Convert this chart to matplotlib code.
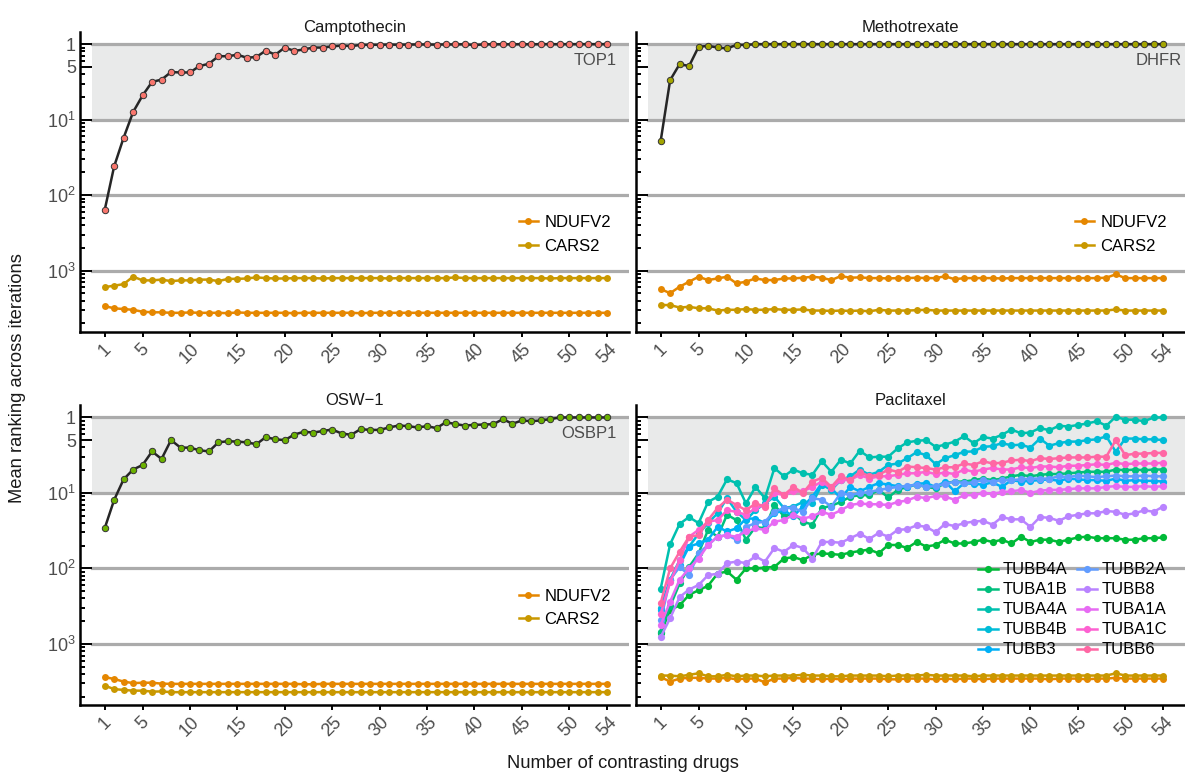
import matplotlib
matplotlib.use("Agg")
import matplotlib.pyplot as plt
import numpy as np

plt.rcParams['font.family'] = ['Liberation Sans', 'DejaVu Sans']
plt.rcParams['mathtext.fontset'] = 'custom'
plt.rcParams['mathtext.rm'] = 'Liberation Sans'

# x axis: number of contrasting drugs
n_drugs = np.arange(1, 55)
xtick_pos = [1, 5, 10, 15, 20, 25, 30, 35, 40, 45, 50, 54]

# mean ranking across iterations as log10(rank)
top1 = [2.20, 1.62, 1.24, 0.90, 0.68, 0.50, 0.47, 0.37, 0.375, 0.375,
        0.29, 0.26, 0.16, 0.16, 0.14, 0.18, 0.17, 0.085, 0.14, 0.045,
        0.09, 0.07, 0.045, 0.045, 0.03, 0.018, 0.026, 0.01, 0.008, 0.008,
        0.005, 0.008, 0.005, 0.004, 0.004, 0.006, 0.003, 0.004, 0.0, 0.012,
        0.002, 0.002, 0.001, 0.002, 0.0, 0.002, 0.0, 0.0, 0.001, 0.0,
        0.0, 0.0, 0.0, 0.0]
campto_ndufv2 = [3.47, 3.50, 3.51, 3.52, 3.545, 3.553, 3.553, 3.56, 3.56, 3.555,
                 3.56, 3.56, 3.56, 3.565, 3.555, 3.56, 3.56, 3.56, 3.56, 3.56,
                 3.565, 3.56, 3.56, 3.56, 3.56, 3.56, 3.56, 3.565, 3.56, 3.56,
                 3.56, 3.56, 3.56, 3.56, 3.56, 3.56, 3.56, 3.56, 3.56, 3.56,
                 3.56, 3.56, 3.56, 3.56, 3.56, 3.56, 3.56, 3.56, 3.56, 3.56,
                 3.56, 3.56, 3.56, 3.56]
campto_cars2 = [3.22, 3.20, 3.18, 3.08, 3.13, 3.13, 3.12, 3.14, 3.13, 3.13,
                3.12, 3.12, 3.14, 3.11, 3.11, 3.105, 3.09, 3.10, 3.105, 3.105,
                3.10, 3.10, 3.10, 3.105, 3.10, 3.10, 3.10, 3.10, 3.10, 3.10,
                3.105, 3.10, 3.10, 3.10, 3.10, 3.10, 3.10, 3.09, 3.10, 3.10,
                3.10, 3.10, 3.10, 3.10, 3.10, 3.10, 3.10, 3.105, 3.10, 3.10,
                3.10, 3.10, 3.10, 3.10]

dhfr = [1.285, 0.477, 0.265, 0.29, 0.035, 0.023, 0.044, 0.057, 0.01, 0.01,
        0.0, 0.0, 0.0, 0.0, 0.0, 0.0, 0.0, 0.0, 0.0, 0.0,
        0.0, 0.0, 0.0, 0.0, 0.0, 0.0, 0.0, 0.0, 0.0, 0.0,
        0.0, 0.0, 0.0, 0.0, 0.0, 0.0, 0.0, 0.0, 0.0, 0.0,
        0.0, 0.0, 0.0, 0.0, 0.0, 0.0, 0.0, 0.0, 0.0, 0.0,
        0.0, 0.0, 0.0, 0.0]
metho_ndufv2 = [3.245, 3.30, 3.214, 3.148, 3.082, 3.126, 3.104, 3.082, 3.17, 3.148,
                3.104, 3.126, 3.126, 3.104, 3.104, 3.095, 3.082, 3.095, 3.126, 3.073,
                3.095, 3.09, 3.10, 3.10, 3.104, 3.10, 3.10, 3.095, 3.10, 3.10,
                3.075, 3.115, 3.10, 3.10, 3.10, 3.10, 3.105, 3.10, 3.10, 3.10,
                3.10, 3.10, 3.10, 3.10, 3.10, 3.10, 3.10, 3.095, 3.05, 3.10,
                3.10, 3.10, 3.10, 3.10]
metho_cars2 = [3.457, 3.457, 3.49, 3.48, 3.50, 3.50, 3.53, 3.52, 3.52, 3.51,
               3.52, 3.52, 3.51, 3.52, 3.52, 3.515, 3.53, 3.53, 3.535, 3.53,
               3.535, 3.53, 3.54, 3.52, 3.53, 3.53, 3.53, 3.525, 3.52, 3.53,
               3.53, 3.53, 3.53, 3.53, 3.53, 3.53, 3.53, 3.53, 3.53, 3.53,
               3.53, 3.53, 3.53, 3.53, 3.53, 3.53, 3.53, 3.53, 3.515, 3.53,
               3.53, 3.53, 3.53, 3.53]

osbp1 = [1.47, 1.093, 0.82, 0.69, 0.63, 0.45, 0.55, 0.30, 0.40, 0.40,
         0.435, 0.45, 0.33, 0.315, 0.32, 0.33, 0.355, 0.26, 0.29, 0.30,
         0.227, 0.19, 0.20, 0.18, 0.16, 0.213, 0.23, 0.155, 0.165, 0.165,
         0.133, 0.107, 0.115, 0.133, 0.115, 0.142, 0.062, 0.089, 0.107, 0.098,
         0.094, 0.089, 0.022, 0.084, 0.04, 0.049, 0.04, 0.022, 0.0, 0.0,
         0.0, 0.0, 0.0, 0.0]
osw_ndufv2 = [3.44, 3.465, 3.50, 3.52, 3.515, 3.515, 3.527, 3.53, 3.53, 3.53,
              3.53, 3.53, 3.53, 3.53, 3.53, 3.53, 3.53, 3.53, 3.53, 3.53,
              3.53, 3.535, 3.535, 3.53, 3.53, 3.53, 3.53, 3.53, 3.53, 3.53,
              3.53, 3.53, 3.53, 3.53, 3.53, 3.53, 3.53, 3.53, 3.53, 3.53,
              3.53, 3.53, 3.53, 3.53, 3.53, 3.53, 3.53, 3.53, 3.53, 3.53,
              3.53, 3.53, 3.53, 3.53]
osw_cars2 = [3.553, 3.60, 3.61, 3.62, 3.62, 3.633, 3.63, 3.64, 3.64, 3.64,
             3.64, 3.64, 3.64, 3.64, 3.64, 3.64, 3.64, 3.64, 3.64, 3.64,
             3.64, 3.64, 3.64, 3.64, 3.64, 3.64, 3.64, 3.64, 3.64, 3.64,
             3.64, 3.64, 3.64, 3.64, 3.64, 3.64, 3.64, 3.64, 3.64, 3.64,
             3.64, 3.64, 3.64, 3.64, 3.64, 3.64, 3.64, 3.64, 3.64, 3.64,
             3.64, 3.64, 3.64, 3.64]

pacli_ndufv2 = [3.44, 3.50, 3.46, 3.45, 3.45, 3.46, 3.46, 3.45, 3.47, 3.46,
                3.46, 3.51, 3.46, 3.46, 3.45, 3.46, 3.46, 3.47, 3.46, 3.47,
                3.46, 3.46, 3.46, 3.46, 3.47, 3.47, 3.46, 3.46, 3.46, 3.47,
                3.46, 3.47, 3.46, 3.46, 3.47, 3.46, 3.46, 3.46, 3.46, 3.46,
                3.46, 3.47, 3.46, 3.46, 3.46, 3.47, 3.46, 3.46, 3.45, 3.46,
                3.46, 3.46, 3.46, 3.46]
pacli_cars2 = [3.42, 3.42, 3.43, 3.41, 3.39, 3.43, 3.43, 3.41, 3.43, 3.42,
               3.42, 3.43, 3.42, 3.42, 3.42, 3.41, 3.42, 3.42, 3.43, 3.43,
               3.42, 3.42, 3.42, 3.42, 3.43, 3.42, 3.42, 3.42, 3.41, 3.42,
               3.42, 3.42, 3.42, 3.43, 3.42, 3.42, 3.42, 3.42, 3.42, 3.42,
               3.42, 3.42, 3.42, 3.42, 3.42, 3.42, 3.42, 3.42, 3.39, 3.42,
               3.42, 3.42, 3.42, 3.42]

tubb4a = [2.86, 2.55, 2.49, 2.35, 2.29, 2.23, 2.07, 2.04, 2.15, 2.00,
          2.00, 1.99, 1.98, 1.87, 1.85, 1.89, 1.82, 1.80, 1.81, 1.82,
          1.79, 1.77, 1.75, 1.80, 1.69, 1.69, 1.73, 1.65, 1.71, 1.69,
          1.62, 1.67, 1.67, 1.65, 1.62, 1.65, 1.62, 1.67, 1.58, 1.65,
          1.62, 1.62, 1.65, 1.62, 1.59, 1.58, 1.60, 1.60, 1.60, 1.62,
          1.62, 1.60, 1.60, 1.59]
tuba1b = [2.84, 2.50, 2.20, 1.98, 1.80, 1.49, 1.58, 1.29, 1.36, 1.62,
          1.45, 1.47, 1.16, 1.31, 1.27, 1.38, 1.42, 1.20, 1.17, 1.12,
          1.05, 1.03, 1.03, 0.96, 1.06, 0.96, 0.92, 0.89, 0.92, 0.94,
          0.87, 0.85, 0.85, 0.83, 0.81, 0.83, 0.81, 0.78, 0.76, 0.78,
          0.76, 0.75, 0.75, 0.74, 0.73, 0.72, 0.72, 0.72, 0.69, 0.70,
          0.69, 0.70, 0.69, 0.69]
tuba4a = [2.27, 1.68, 1.41, 1.32, 1.40, 1.12, 1.05, 0.82, 0.87, 1.14,
          0.92, 1.07, 0.67, 0.78, 0.69, 0.74, 0.76, 0.58, 0.72, 0.56,
          0.61, 0.44, 0.53, 0.52, 0.52, 0.41, 0.33, 0.31, 0.30, 0.39,
          0.36, 0.32, 0.25, 0.34, 0.26, 0.28, 0.23, 0.16, 0.21, 0.20,
          0.14, 0.17, 0.11, 0.12, 0.10, 0.08, 0.05, 0.11, -0.01, 0.03,
          0.03, 0.05, 0.0, 0.0]
tubb4b = [2.53, 2.15, 1.89, 1.71, 1.54, 1.40, 1.27, 1.07, 1.25, 1.36,
          1.23, 1.14, 1.05, 1.20, 1.18, 1.12, 1.14, 0.89, 0.96, 0.83,
          0.78, 0.69, 0.76, 0.72, 0.63, 0.61, 0.54, 0.46, 0.50, 0.62,
          0.54, 0.50, 0.455, 0.45, 0.39, 0.38, 0.34, 0.37, 0.36, 0.40,
          0.28, 0.375, 0.34, 0.32, 0.32, 0.30, 0.29, 0.25, 0.455, 0.28,
          0.28, 0.29, 0.29, 0.30]
tubb3 = [2.55, 2.15, 1.96, 1.71, 1.67, 1.62, 1.45, 1.51, 1.47, 1.34,
         1.34, 1.40, 1.27, 1.23, 1.31, 1.18, 1.05, 0.87, 0.94, 1.07,
         0.92, 0.98, 0.92, 0.87, 0.89, 0.91, 0.92, 0.88, 0.87, 0.92,
         0.85, 0.98, 0.87, 0.88, 0.89, 0.86, 0.92, 0.83, 0.85, 0.84,
         0.83, 0.82, 0.84, 0.81, 0.82, 0.83, 0.83, 0.84, 0.81, 0.84,
         0.83, 0.84, 0.84, 0.85]
tubb2a = [2.69, 2.15, 1.98, 2.09, 1.80, 1.69, 1.58, 1.56, 1.62, 1.45,
          1.40, 1.38, 1.25, 1.20, 1.20, 1.25, 1.07, 1.09, 1.18, 1.00,
          1.03, 1.00, 0.99, 0.96, 0.94, 0.92, 0.91, 0.89, 0.92, 0.91,
          0.88, 0.85, 0.87, 0.86, 0.83, 0.85, 0.83, 0.83, 0.82, 0.81,
          0.81, 0.81, 0.78, 0.79, 0.77, 0.78, 0.79, 0.78, 0.77, 0.78,
          0.78, 0.77, 0.78, 0.78]
tubb8 = [2.91, 2.66, 2.38, 2.28, 2.22, 2.09, 2.07, 1.93, 1.91, 1.93,
         1.84, 1.91, 1.73, 1.78, 1.69, 1.73, 1.87, 1.65, 1.65, 1.66,
         1.60, 1.54, 1.61, 1.53, 1.58, 1.49, 1.48, 1.43, 1.45, 1.52,
         1.41, 1.44, 1.40, 1.38, 1.37, 1.42, 1.32, 1.35, 1.35, 1.45,
         1.32, 1.33, 1.37, 1.31, 1.29, 1.27, 1.27, 1.24, 1.25, 1.29,
         1.27, 1.23, 1.25, 1.18]
tuba1a = [2.75, 2.44, 2.15, 2.00, 1.87, 1.69, 1.58, 1.56, 1.58, 1.51,
          1.47, 1.49, 1.38, 1.36, 1.29, 1.34, 1.31, 1.25, 1.29, 1.23,
          1.16, 1.14, 1.15, 1.15, 1.16, 1.12, 1.10, 1.05, 1.07, 1.04,
          1.05, 1.09, 1.03, 1.03, 1.00, 1.01, 0.99, 0.98, 0.96, 1.00,
          0.97, 0.96, 0.96, 0.95, 0.94, 0.94, 0.94, 0.92, 0.91, 0.92,
          0.92, 0.91, 0.92, 0.91]
tuba1c = [2.60, 2.18, 1.89, 1.58, 1.49, 1.38, 1.36, 1.23, 1.25, 1.29,
          1.20, 1.16, 1.00, 1.03, 0.98, 0.98, 0.92, 0.85, 0.94, 0.83,
          0.83, 0.76, 0.81, 0.78, 0.78, 0.76, 0.74, 0.74, 0.72, 0.75,
          0.73, 0.75, 0.69, 0.72, 0.69, 0.67, 0.69, 0.69, 0.66, 0.67,
          0.65, 0.65, 0.66, 0.64, 0.64, 0.63, 0.62, 0.63, 0.60, 0.62,
          0.61, 0.61, 0.61, 0.60]
tubb6 = [2.46, 2.00, 1.78, 1.58, 1.56, 1.36, 1.20, 1.09, 1.16, 1.23,
         1.14, 1.18, 0.94, 1.03, 0.92, 1.00, 0.85, 0.80, 0.92, 0.78,
         0.83, 0.72, 0.78, 0.76, 0.69, 0.72, 0.65, 0.66, 0.67, 0.69,
         0.66, 0.66, 0.61, 0.63, 0.58, 0.61, 0.60, 0.57, 0.56, 0.58,
         0.54, 0.55, 0.54, 0.53, 0.53, 0.53, 0.52, 0.52, 0.30, 0.50,
         0.48, 0.48, 0.47, 0.47]

tub_names = ['TUBB4A', 'TUBA1B', 'TUBA4A', 'TUBB4B', 'TUBB3',
             'TUBB2A', 'TUBB8', 'TUBA1A', 'TUBA1C', 'TUBB6']
tub_series = [tubb4a, tuba1b, tuba4a, tubb4b, tubb3,
              tubb2a, tubb8, tuba1a, tuba1c, tubb6]
tub_colors = ['#00BA38', '#00BF7D', '#00C0AF', '#00BCD8', '#00B0F6',
              '#619CFF', '#B983FF', '#E76BF3', '#FD61D1', '#FF67A4']
col_ndufv2 = '#E58700'
col_cars2 = '#C99800'

W, H = 1185, 774
fig = plt.figure(figsize=(W / 100, H / 100), dpi=100)


def add_panel(left, top, right, bottom):
    return fig.add_axes([left / W, 1 - bottom / H, (right - left) / W, (bottom - top) / H])


def style_axis(ax, title, show_labels):
    ax.set_xlim(-1.6, 56.3)
    ax.set_ylim(3.81, -0.165)
    inset = 12 / 549
    ax.axhspan(0, 1, xmin=inset, xmax=1, color='#E9EAEA', zorder=0, lw=0)
    for v in [0, 1, 2, 3]:
        ax.axhline(v, xmin=inset, xmax=1, color='#ABABAB', lw=2.3, zorder=0.5)
    for s in ['top', 'right']:
        ax.spines[s].set_visible(False)
    for s in ['left', 'bottom']:
        ax.spines[s].set_linewidth(1.8)
        ax.spines[s].set_color('black')
    ax.set_xticks(xtick_pos)
    ax.set_xticklabels([str(t) for t in xtick_pos], rotation=45, ha='center',
                       fontsize=13, color='#4D4D4D')
    ax.tick_params(axis='x', direction='out', length=3.5, width=1.4, pad=3)
    # mirrored log ticks, as in the original figure
    ax.set_yticks([0, np.log10(2), 1, 2, 3])
    ax.set_yticklabels(['1', '5', r'$\mathregular{10^1}$', r'$\mathregular{10^2}$',
                        r'$\mathregular{10^3}$'], fontsize=13, color='#4D4D4D')
    minor = []
    for n in range(4):
        for k in range(2, 10):
            if k != 5 or n != 0:
                minor.append(n + 1 - np.log10(k))
    ax.set_yticks(minor, minor=True)
    ax.tick_params(axis='y', which='major', direction='in', length=8.5, width=1.4,
                   pad=3, labelleft=show_labels)
    ax.tick_params(axis='y', which='minor', direction='in', length=3.8, width=1.4)
    ax.text(0.5, 1.0, title, transform=ax.transAxes, ha='center', va='baseline',
            fontsize=12, color='#1A1A1A')


def controls(ax, nd, cs):
    ax.plot(n_drugs, nd, color=col_ndufv2, lw=1.8, marker='o', ms=5, mew=0,
            label='NDUFV2', zorder=2)
    ax.plot(n_drugs, cs, color=col_cars2, lw=1.8, marker='o', ms=5, mew=0,
            label='CARS2', zorder=2)
    ax.legend(loc='center left', bbox_to_anchor=(0.80, 0.324), frameon=False,
              fontsize=12, borderpad=0, borderaxespad=0, handlelength=1.1,
              handletextpad=0.4, labelspacing=0.5)


def target(ax, vals, color, name, xpos):
    ax.plot(n_drugs, vals, color='#262626', lw=1.8, marker='o', ms=4.6,
            mfc=color, mec='#333333', mew=0.7, zorder=3)
    ax.text(xpos, 0.21, name, ha='right', va='center', fontsize=12, color='#4D4D4D')


ax1 = add_panel(80, 31.7, 629, 331.7)
style_axis(ax1, 'Camptothecin', True)
controls(ax1, campto_ndufv2, campto_cars2)
target(ax1, top1, '#F8766D', 'TOP1', 55.0)

ax2 = add_panel(636, 31.7, 1185, 331.7)
style_axis(ax2, 'Methotrexate', False)
controls(ax2, metho_ndufv2, metho_cars2)
target(ax2, dhfr, '#A3A500', 'DHFR', 56.0)

ax3 = add_panel(80, 405, 629, 705)
style_axis(ax3, 'OSW\u22121', True)
controls(ax3, osw_ndufv2, osw_cars2)
target(ax3, osbp1, '#6BB100', 'OSBP1', 55.0)

ax4 = add_panel(636, 405, 1185, 705)
style_axis(ax4, 'Paclitaxel', False)
ax4.plot(n_drugs, pacli_ndufv2, color=col_ndufv2, lw=1.8, marker='o', ms=5, mew=0, zorder=2)
ax4.plot(n_drugs, pacli_cars2, color=col_cars2, lw=1.8, marker='o', ms=5, mew=0, zorder=2)
for name, vals, c in zip(tub_names, tub_series, tub_colors):
    ax4.plot(n_drugs, vals, color=c, lw=1.8, marker='o', ms=5.2, mew=0,
             label=name, zorder=3)
ax4.legend(loc='center left', bbox_to_anchor=(0.623, 0.317), ncol=2, frameon=False,
           fontsize=12, borderpad=0, borderaxespad=0, handlelength=1.2,
           handletextpad=0.3, labelspacing=0.3, columnspacing=0.55)

fig.text(18 / W, 1 - 378 / H, 'Mean ranking across iterations', rotation=90,
         ha='center', va='center', fontsize=13.2, color='#1A1A1A')
fig.text(623 / W, 1 - 764 / H, 'Number of contrasting drugs', ha='center',
         va='center', fontsize=13.2, color='#1A1A1A')

fig.savefig('out.png', dpi=100)
